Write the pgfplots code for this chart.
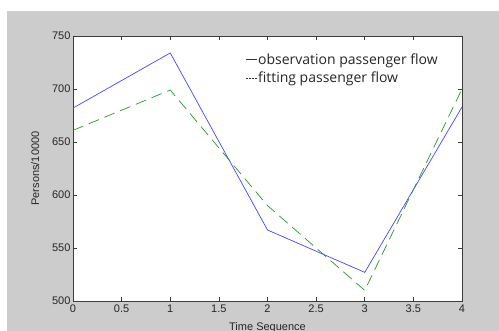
\documentclass[border=0pt]{standalone}
\usepackage{fontspec}
\setmainfont{Liberation Sans}
\newfontfamily\legfont{Open Sans}
\usepackage{pgfplots}
\pgfplotsset{compat=1.18}
\definecolor{bggray}{RGB}{204,204,204}
\definecolor{mblue}{RGB}{70,70,255}
\definecolor{mgreen}{RGB}{40,150,40}
\definecolor{axgray}{RGB}{60,60,60}
\begin{document}
\begin{tikzpicture}[x=1pt,y=1pt]
\useasboundingbox (0,0) rectangle (499,331);
\fill[white] (0,0) rectangle (499,331);
\fill[bggray] (7,0) rectangle (499,320);
\begin{axis}[
  at={(73pt,30pt)}, anchor=south west,
  scale only axis, width=389pt, height=265pt,
  xmin=0, xmax=4, ymin=500, ymax=750,
  xtick={0,0.5,...,4}, ytick={500,550,...,750},
  tick align=inside, major tick length=4pt,
  axis line style={axgray, line width=0.8pt},
  tick style={axgray, line width=0.6pt},
  axis background/.style={fill=white},
  /pgf/number format/assume math mode=true,
  tick label style={font=\fontsize{11}{12}\selectfont, text=black!85},
  xticklabel style={yshift=0pt},
  yticklabel style={xshift=1pt},
  xlabel={Time Sequence}, ylabel={Persons/10000},
  label style={font=\fontsize{11}{12}\selectfont, text=black!85},
  xlabel style={yshift=-3pt},
  ylabel style={yshift=6pt},
  legend style={draw=none, fill=none, at={(0.435,0.95)}, anchor=north west,
    font=\legfont\fontsize{14}{16}\selectfont, row sep=2.5pt, text=black!85,
    nodes={inner xsep=1pt}},
  legend cell align=left,
  legend image code/.code={\draw[#1] (0pt,0pt) -- (11pt,0pt);},
]
\addplot[mblue, line width=0.7pt, legend image post style={black!80}] coordinates {(0,682) (1,734) (2,567) (3,527) (4,683)};
\addlegendentry{observation passenger flow}
\addplot[mgreen, line width=0.7pt, dash pattern=on 11pt off 6pt, legend image post style={black!80, dash pattern=on 2pt off 1pt}] coordinates {(0,661) (1,699) (2,590) (3,510) (4,700)};
\addlegendentry{fitting passenger flow}
\end{axis}
\end{tikzpicture}
\end{document}
